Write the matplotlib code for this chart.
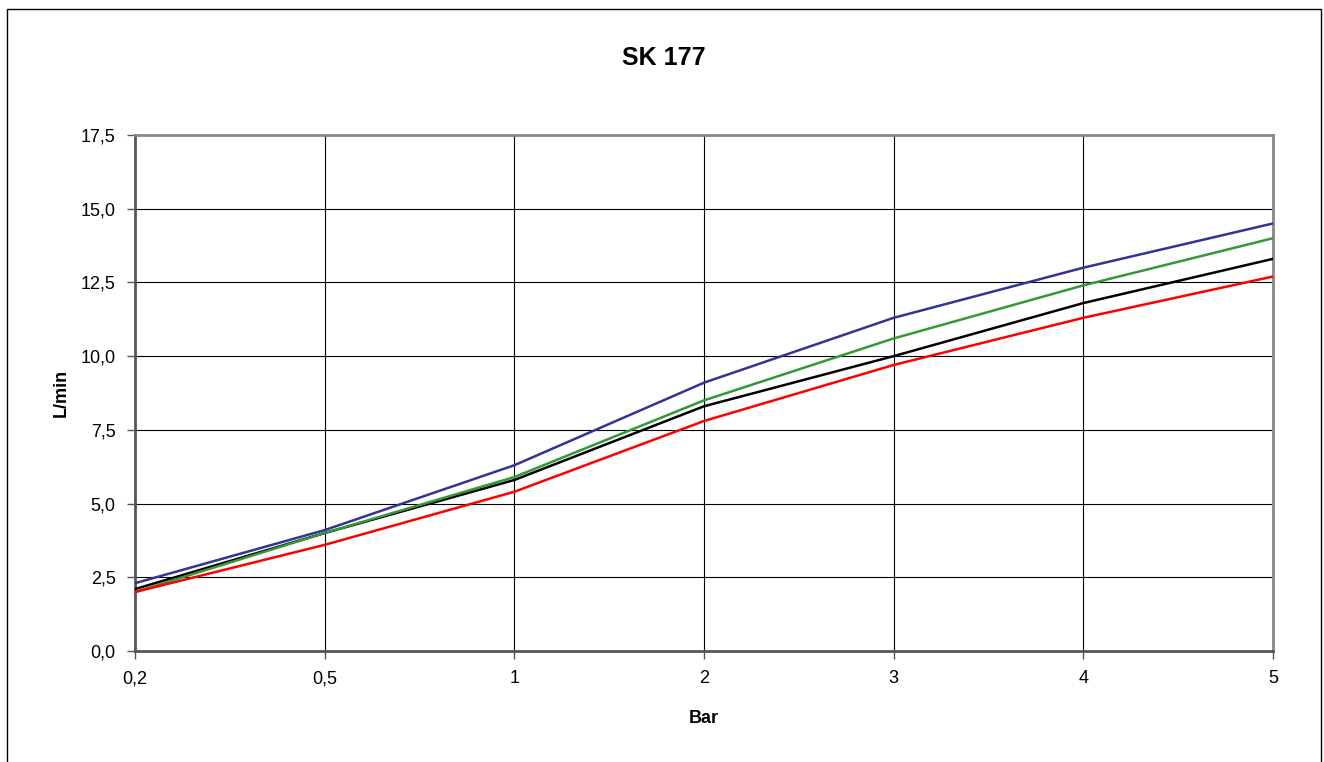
import matplotlib
matplotlib.use("Agg")
from matplotlib import pyplot as plt
from matplotlib.patches import Rectangle
import numpy as np

plt.rcParams['font.family'] = ['Liberation Sans', 'DejaVu Sans']

# data
bar_labels = ["0,2", "0,5", "1", "2", "3", "4", "5"]
blue_vals = [2.3, 4.1, 6.3, 9.1, 11.3, 13.0, 14.5]
green_vals = [2.0, 4.0, 5.9, 8.5, 10.6, 12.4, 14.0]
black_vals = [2.1, 4.0, 5.8, 8.3, 10.0, 11.8, 13.3]
red_vals = [2.0, 3.6, 5.4, 7.8, 9.7, 11.3, 12.7]
y_ticks = [0, 2.5, 5, 7.5, 10, 12.5, 15, 17.5]

x = np.arange(len(bar_labels))

fig = plt.figure(figsize=(13.24, 7.62), dpi=100)
# outer chart border
fig.patches.append(Rectangle((7 / 1324, -0.05), (1321 - 7) / 1324, 1.05 - 9 / 762,
                             transform=fig.transFigure, fill=False,
                             edgecolor="black", linewidth=1.0))

ax = fig.add_axes([135 / 1324, 111 / 762, 1138 / 1324, 516 / 762])

ax.plot(x, black_vals, color="black", lw=1.8, zorder=3)
ax.plot(x, green_vals, color="#339933", lw=1.8, zorder=3)
ax.plot(x, red_vals, color="#ff0000", lw=1.8, zorder=3)
ax.plot(x, blue_vals, color="#333399", lw=1.8, zorder=3)

ax.set_xlim(0, len(bar_labels) - 1)
ax.set_ylim(0, 17.5)
ax.set_xticks(x)
ax.set_xticklabels(bar_labels)
ax.set_yticks(y_ticks)
ax.set_yticklabels([f"{v:.1f}".replace(".", ",") for v in y_ticks])

ax.grid(True, color="black", lw=0.8)
ax.set_axisbelow(True)
ax.tick_params(labelsize=13, length=6, width=1, color="#555555", pad=8)

for side in ["left", "bottom"]:
    ax.spines[side].set_color("#555555")
    ax.spines[side].set_linewidth(2)
for side in ["top", "right"]:
    ax.spines[side].set_color("#888888")
    ax.spines[side].set_linewidth(2)

fig.text(664 / 1324, 1 - 58 / 762, "SK 177", fontsize=18, fontweight="bold",
         ha="center", va="center")
ax.set_xlabel("Bar", fontsize=13, fontweight="bold", labelpad=16)
ax.set_ylabel("L/min", fontsize=13, fontweight="bold", labelpad=8)

fig.savefig("out.png", dpi=100)
